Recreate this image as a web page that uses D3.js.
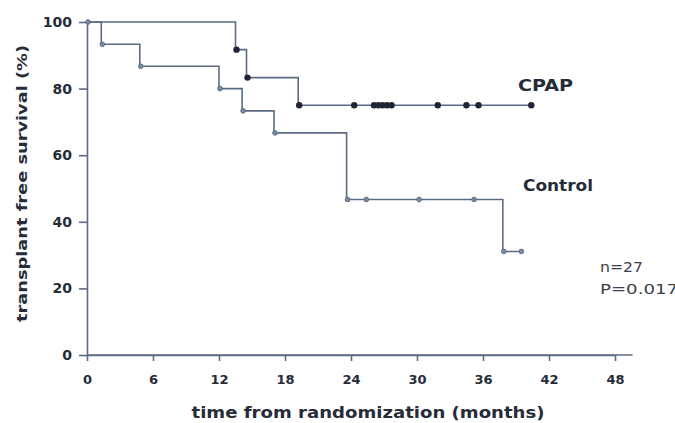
<!DOCTYPE html>
<html><head><meta charset="utf-8">
<script src="https://cdn.jsdelivr.net/npm/d3@7"></script>
<style>body{margin:0;background:#fff}svg{display:block}</style>
</head><body>
<svg id="c" width="675" height="423"></svg>
<script>
// Data (months, survival %)
const cpapStepTimes = [0, 13.5, 14.5, 19.2, 40.3];
const cpapStepSurv  = [100, 91.7, 83.3, 75, 75];
const cpapEventTimes = [13.5, 14.5, 19.2];
const cpapCensorTimes = [24.2, 26.0, 26.4, 26.8, 27.2, 27.6, 31.8, 34.4, 35.5, 40.3];

const ctrlStepTimes = [0, 1.3, 4.8, 12.0, 14.1, 17.0, 23.6, 37.8, 39.4];
const ctrlStepSurv  = [100, 93.3, 86.7, 80.0, 73.3, 66.7, 46.7, 31.1, 31.1];
const ctrlEventTimes = [1.3, 4.8, 12.0, 14.1, 17.0, 23.6, 37.8];
const ctrlCensorTimes = [25.3, 30.1, 35.1, 39.4];

const xTicks = [0, 6, 12, 18, 24, 30, 36, 42, 48];
const yTicks = [0, 20, 40, 60, 80, 100];
const seriesLabels = ["CPAP", "Control"];
const stats = ["n=27", "P=0.017"];

const svg = d3.select("#c");
const x = d3.scaleLinear().domain([0, 48]).range([87, 615]);
const y = d3.scaleLinear().domain([0, 100]).range([355, 22]);
const lineCol = "#5b6b86", textCol = "#262c38";
const font = "DejaVu Sans, Verdana, sans-serif";

// axes
const xAx = svg.append("g").attr("transform", "translate(0,355)")
  .call(d3.axisBottom(x).tickValues(xTicks).tickSize(6).tickPadding(14).tickSizeOuter(0));
const yAx = svg.append("g").attr("transform", "translate(87,0)")
  .call(d3.axisLeft(y).tickValues(yTicks).tickSize(8).tickPadding(7).tickSizeOuter(0));
[xAx, yAx].forEach(g => {
  g.selectAll("path,line").attr("stroke", lineCol).attr("stroke-width", 1.6);
  g.selectAll("text").attr("fill", textCol).style("font-family", font).style("font-weight", "bold");
});
xAx.selectAll("text").style("font-size", "13px");
yAx.selectAll("text").style("font-size", "14px");
// extend x axis line
svg.append("line").attr("x1", x(0)).attr("x2", x(49.6)).attr("y1", 355).attr("y2", 355)
  .attr("stroke", lineCol).attr("stroke-width", 1.6);

function stepPath(ts, ss) {
  const pts = ts.map((t, i) => [x(t), y(ss[i])]);
  return d3.line().curve(d3.curveStepAfter)(pts);
}
function survAt(ts, ss, t) {
  let v = ss[0];
  for (let i = 0; i < ts.length; i++) if (ts[i] <= t) v = ss[i];
  return v;
}

svg.append("path").attr("d", stepPath(ctrlStepTimes, ctrlStepSurv))
  .attr("fill", "none").attr("stroke", lineCol).attr("stroke-width", 1.6);
svg.append("path").attr("d", stepPath(cpapStepTimes, cpapStepSurv))
  .attr("fill", "none").attr("stroke", lineCol).attr("stroke-width", 1.6);

// Control markers
const ctrlMarks = [0].concat(ctrlEventTimes, ctrlCensorTimes);
svg.selectAll(".cm").data(ctrlMarks).enter().append("circle")
  .attr("cx", d => x(d) + 1).attr("cy", d => y(survAt(ctrlStepTimes, ctrlStepSurv, d)))
  .attr("r", 2.3).attr("fill", "#7d8ba3").attr("stroke", lineCol).attr("stroke-width", 1);
// CPAP markers
const cpapMarks = cpapEventTimes.concat(cpapCensorTimes);
svg.selectAll(".pm").data(cpapMarks).enter().append("circle")
  .attr("cx", d => x(d) + 1).attr("cy", d => y(survAt(cpapStepTimes, cpapStepSurv, d)))
  .attr("r", 3.2).attr("fill", "#1f2633");

function label(txt, xp, yp, size, weight, len, col) {
  return svg.append("text").attr("x", xp).attr("y", yp).text(txt)
    .attr("fill", col || textCol).style("font-family", font).style("font-weight", weight)
    .style("font-size", size + "px").attr("textLength", len).attr("lengthAdjust", "spacingAndGlyphs");
}
label(seriesLabels[0], 518, 91, 15, "bold", 55);
label(seriesLabels[1], 523, 191, 15, "bold", 70);
label(stats[0], 600, 272, 13.5, "normal", 43, "#3a404c");
label(stats[1], 600, 294, 13.5, "normal", 78, "#3a404c");

svg.append("text").attr("transform", "translate(27,183.5) rotate(-90)").attr("text-anchor", "middle")
  .text("transplant free survival (%)").attr("fill", textCol)
  .attr("textLength", 277).attr("lengthAdjust", "spacingAndGlyphs")
  .style("font-family", font).style("font-weight", "bold").style("font-size", "14px");
svg.append("text").attr("x", 368).attr("y", 418).attr("text-anchor", "middle")
  .text("time from randomization (months)").attr("fill", textCol)
  .attr("textLength", 353).attr("lengthAdjust", "spacingAndGlyphs")
  .style("font-family", font).style("font-weight", "bold").style("font-size", "15px");
</script>
</body></html>
